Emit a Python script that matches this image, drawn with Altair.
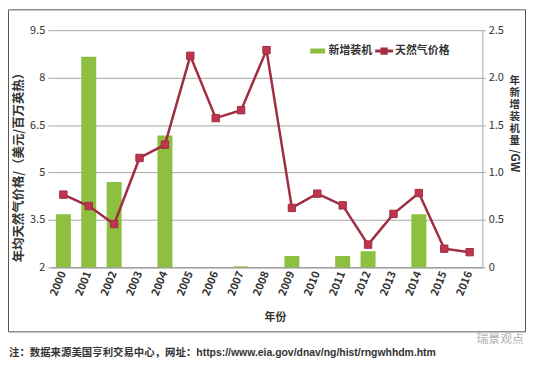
import altair as alt
import pandas as pd

# ---- data ----
years = [str(y) for y in range(2000, 2017)]
price = [4.30, 3.94, 3.37, 5.46, 5.88, 8.69, 6.72, 6.97, 8.87, 3.88, 4.33, 3.96, 2.72, 3.69, 4.35, 2.59, 2.48]
capacity = [0.56, 2.22, 0.90, 0.0, 1.39, 0.0, 0.0, 0.01, 0.0, 0.12, 0.0, 0.12, 0.17, 0.0, 0.56, 0.0, 0.0]
series = ["新增装机", "天然气价格"]
price_ticks = [2, 3.5, 5, 6.5, 8, 9.5]
cap_ticks = [0, 0.5, 1.0, 1.5, 2.0, 2.5]
left_title = "年均天然气价格/（美元/百万英热）"
right_title = ["年", "新", "增", "装", "机", "量"]
right_unit = "/GW"
x_title = "年份"
footnote = "注：数据来源美国亨利交易中心，网址：https://www.eia.gov/dnav/ng/hist/rngwhhdm.htm"
watermark = "瑞景观点"

GREEN = "#8dbf40"
RED_LINE = "#a02d42"
RED_MARK = "#be3550"
TXT = "#333333"
GRID = "#a6a6a6"
FONT = "Noto Sans CJK SC"
FOOT_FONT = "Liberation Sans, Noto Sans CJK SC"

W, H = 435, 239

df = pd.DataFrame({"year": years, "price": price, "cap": capacity})
legend_df = pd.DataFrame({"year": [years[0], years[0]], "price": [None, None], "series": series})

x_enc = alt.X(
    "year:O",
    scale=alt.Scale(paddingInner=0.41, paddingOuter=0.205),
    axis=alt.Axis(
        labelAngle=-68, labelFontSize=11, labelColor=TXT, labelFontWeight="bold",
        labelPadding=4, ticks=False, domain=True, domainColor="#8c8c8c",
        title=x_title, titleFontSize=11, titleFontWeight="bold", titleColor=TXT,
        titleX=226, titleY=51, titleBaseline="middle",
    ),
)

bars = alt.Chart(df).mark_bar(color=GREEN).encode(
    x=x_enc,
    y=alt.Y(
        "cap:Q",
        scale=alt.Scale(domain=[0, 2.5], nice=False, zero=True),
        axis=alt.Axis(
            orient="right", values=cap_ticks, grid=False, domain=True, domainColor=GRID,
            ticks=True, tickSize=3, tickColor=GRID, labelFontSize=11, labelColor=TXT,
            labelPadding=3,
            labelExpr="datum.value == 0 ? '0' : format(datum.value, '.1f')",
            title=right_title, titleAngle=0, titleFontSize=10.5, titleFontWeight="bold",
            titleColor=TXT, titleX=32, titleY=46, titleAlign="center",
            titleBaseline="top", titleLineHeight=12,
        ),
    ),
)

y_price = alt.Y(
    "price:Q",
    scale=alt.Scale(domain=[2, 9.5], nice=False, zero=False),
    axis=alt.Axis(
        orient="left", values=price_ticks, grid=True, gridColor=GRID, gridWidth=1,
        domain=False, ticks=True, tickSize=3, tickColor=GRID,
        labelFontSize=11, labelColor=TXT, labelPadding=3,
        labelExpr="format(datum.value, '~g')",
        title=left_title, titleFontSize=12.5, titleFontWeight="bold", titleColor=TXT,
        titleX=-32, titleY=135, titleBaseline="middle", titleAlign="center", titleAngle=-90,
    ),
)

line = alt.Chart(df).mark_line(color=RED_LINE, strokeWidth=2.5).encode(
    x=alt.X("year:O"), y=y_price
)
points = alt.Chart(df).mark_point(
    shape="square", filled=True, size=55, color=RED_MARK, opacity=1,
    stroke=RED_LINE, strokeWidth=1,
).encode(x=alt.X("year:O"), y=alt.Y("price:Q"))

sym_bar = "M-0.68,-0.23H0.68V0.23H-0.68Z"
sym_line = "M-0.82,-0.13H0.82V0.13H-0.82Z M-0.33,-0.33H0.33V0.33H-0.33Z"

leg_props = dict(
    orient="none", legendX=258, legendY=10, direction="horizontal",
    title=None, symbolSize=484, labelFontSize=11, labelFontWeight="bold",
    labelColor=TXT, labelOffset=0, columnPadding=1, symbolStrokeWidth=0,
    labelFont=FONT,
)

legend_layer = alt.Chart(legend_df).mark_point(filled=True, opacity=1).encode(
    x=alt.X("year:O"),
    y=alt.Y("price:Q"),
    color=alt.Color(
        "series:N",
        scale=alt.Scale(domain=series, range=[GREEN, RED_LINE]),
        legend=alt.Legend(**leg_props),
    ),
    shape=alt.Shape(
        "series:N",
        scale=alt.Scale(domain=series, range=[sym_bar, sym_line]),
        legend=alt.Legend(**leg_props),
    ),
)

price_layer = alt.layer(line, points, legend_layer)

unit = alt.Chart(pd.DataFrame({"t": [right_unit]})).mark_text(
    align="left", baseline="middle", angle=90, fontSize=11.5, fontWeight="bold",
    color=TXT, font=FONT,
).encode(text="t:N", x=alt.value(W + 32), y=alt.value(120))

foot = alt.Chart(pd.DataFrame({"t": [footnote]})).mark_text(
    align="left", baseline="middle", fontSize=10.5, fontWeight="bold", color=TXT, font=FOOT_FONT,
).encode(text="t:N", x=alt.value(-42), y=alt.value(86 + H))

wm = alt.Chart(pd.DataFrame({"t": [watermark]})).mark_text(
    align="right", baseline="middle", fontSize=12, color="#b0b0b0", font=FONT,
).encode(text="t:N", x=alt.value(477), y=alt.value(72 + H))

frame = alt.Chart(pd.DataFrame({"a": [0]})).mark_rect(
    fill=None, stroke="#555555", strokeWidth=1, clip=False,
).encode(
    x=alt.value(-42.5), x2=alt.value(478.5), y=alt.value(-20.5), y2=alt.value(H + 65)
)

chart = (
    alt.layer(bars, price_layer, unit, frame, foot, wm)
    .resolve_scale(y="independent")
    .properties(
        width=W, height=H,
        autosize=alt.AutoSizeParams(type="none"),
        padding={"left": 43, "top": 21, "right": 44, "bottom": 92},
    )
    .configure(font=FONT)
    .configure_view(stroke=None)
    .configure_axis(labelFont=FONT, titleFont=FONT)
)

chart.save("out.html", embed_options={"renderer": "svg", "actions": False})
